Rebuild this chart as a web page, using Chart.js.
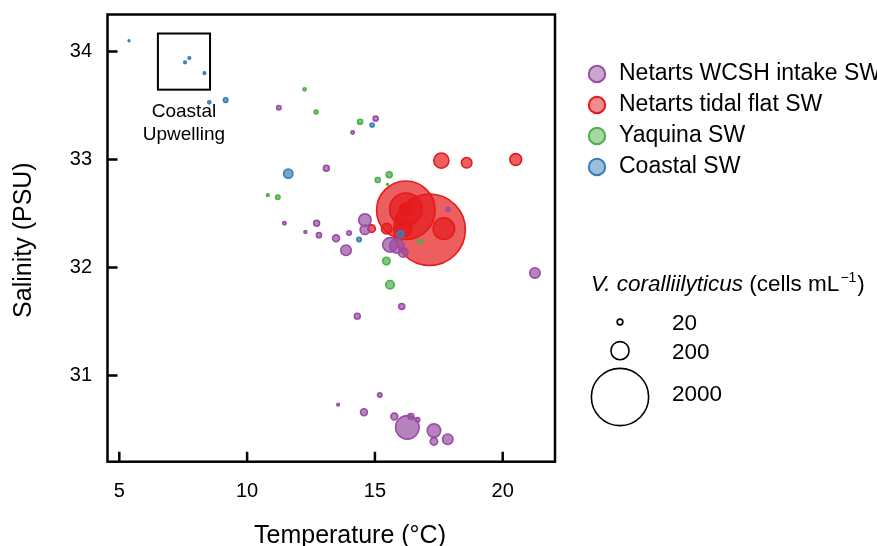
<!DOCTYPE html>
<html><head><meta charset="utf-8">
<script src="https://cdn.jsdelivr.net/npm/chart.js@4.4.1/dist/chart.umd.min.js"></script>
<style>html,body{margin:0;padding:0;background:#fff;}#wrap{width:877px;height:546px;position:relative;}</style>
</head><body><div id="wrap"><canvas id="c" width="877" height="546"></canvas></div>
<script>
// ---- data: temperature (°C), salinity (PSU), V. coralliilyticus (cells mL-1)
const seriesNames = ["Netarts WCSH intake SW", "Netarts tidal flat SW", "Yaquina SW", "Coastal SW"];
const seriesColors = ["#984ea3", "#e41a1c", "#4daf4a", "#377eb8"];

const wcshTemp  = [11.24, 15.03, 14.13, 13.10, 11.46, 12.72, 12.28, 12.81, 13.48, 13.99, 13.87, 14.61, 14.61, 15.59, 15.86, 16.11, 17.86, 21.26, 16.05, 14.31, 15.19, 13.56, 14.57, 15.76, 16.41, 16.67, 16.27, 17.31, 17.31, 17.85];
const wcshSal   = [33.48, 33.38, 33.25, 32.92, 32.41, 32.41, 32.33, 32.30, 32.27, 32.32, 32.16, 32.44, 32.35, 32.21, 32.20, 32.14, 32.54, 31.95, 31.64, 31.55, 30.82, 30.73, 30.66, 30.62, 30.62, 30.59, 30.52, 30.49, 30.39, 30.41];
const wcshCells = [12, 16, 7, 21, 7, 21, 5, 16, 29, 12, 67, 95, 56, 128, 128, 56, 9, 67, 21, 21, 12, 4, 29, 29, 21, 12, 337, 111, 34, 67];

const tidalTemp  = [17.14, 16.21, 16.21, 17.70, 16.21, 16.14, 17.60, 18.59, 20.51, 15.46, 14.87];
const tidalSal   = [32.35, 32.53, 32.54, 32.36, 32.54, 32.36, 32.99, 32.97, 33.00, 32.36, 32.36];
const tidalCells = [3120, 2090, 645, 282, 95, 147, 140, 67, 86, 67, 34];

const yaqTemp  = [12.25, 12.70, 14.42, 15.56, 15.11, 15.49, 10.81, 11.20, 16.76, 15.45, 15.59];
const yaqSal   = [33.65, 33.44, 33.35, 32.86, 32.81, 32.77, 32.67, 32.65, 32.24, 32.06, 31.84];
const yaqCells = [6, 9, 16, 21, 15, 2, 4, 12, 10, 34, 44];

const coastTemp  = [5.38, 7.74, 7.57, 8.33, 8.52, 9.16, 14.89, 11.61, 14.38, 16.01];
const coastSal   = [34.10, 33.94, 33.90, 33.80, 33.53, 33.55, 33.32, 32.87, 32.26, 32.31];
const coastCells = [2, 4, 4, 4, 6, 12, 10, 52, 12, 26];

const xTickValues = [5, 10, 15, 20];
const yTickValues = [31, 32, 33, 34];
const sizeLegendValues = [20, 200, 2000];
const upwellingX = [6.51, 8.55];
const upwellingY = [33.647, 34.167];
const upwellingLabel = ["Coastal", "Upwelling"];

// ---- helpers
const FONT = '"Liberation Sans", Arial, Helvetica, sans-serif';
const R_SCALE = 0.64;
const radiusOf = v => R_SCALE * Math.sqrt(v);
function rgba(hex, a) {
  const n = parseInt(hex.slice(1), 16);
  return `rgba(${(n >> 16) & 255},${(n >> 8) & 255},${n & 255},${a})`;
}
function pts(t, s, c) { return t.map((v, i) => ({ x: v, y: s[i], r: radiusOf(c[i]) })); }

const groups = [
  { t: wcshTemp, s: wcshSal, c: wcshCells, order: 3 },
  { t: tidalTemp, s: tidalSal, c: tidalCells, order: 4 },
  { t: yaqTemp, s: yaqSal, c: yaqCells, order: 2 },
  { t: coastTemp, s: coastSal, c: coastCells, order: 1 }
];
const datasets = groups.map((g, i) => ({
  label: seriesNames[i],
  data: pts(g.t, g.s, g.c),
  backgroundColor: rgba(seriesColors[i], 0.7),
  borderColor: seriesColors[i],
  borderWidth: 1.6,
  hoverRadius: 0,
  order: g.order
}));

const overlay = {
  id: 'overlay',
  afterDatasetsDraw(chart) {
    const { ctx, chartArea: a, scales: { x, y } } = chart;
    ctx.save();
    ctx.strokeStyle = '#000';
    ctx.lineWidth = 2.5;
    ctx.strokeRect(a.left, a.top, a.right - a.left, a.bottom - a.top);
    ctx.beginPath();
    xTickValues.forEach(v => { const p = x.getPixelForValue(v); ctx.moveTo(p, a.bottom); ctx.lineTo(p, a.bottom - 10); });
    yTickValues.forEach(v => { const p = y.getPixelForValue(v); ctx.moveTo(a.left, p); ctx.lineTo(a.left + 10, p); });
    ctx.stroke();
    // upwelling box
    const bx0 = x.getPixelForValue(upwellingX[0]), bx1 = x.getPixelForValue(upwellingX[1]);
    const by0 = y.getPixelForValue(upwellingY[1]), by1 = y.getPixelForValue(upwellingY[0]);
    ctx.lineWidth = 2;
    ctx.strokeRect(bx0, by0, bx1 - bx0, by1 - by0);
    ctx.fillStyle = '#000';
    ctx.font = '19px ' + FONT;
    ctx.textAlign = 'center';
    ctx.textBaseline = 'middle';
    const cx = (bx0 + bx1) / 2;
    ctx.fillText(upwellingLabel[0], cx, by1 + 22.5);
    ctx.fillText(upwellingLabel[1], cx, by1 + 45.5);
    ctx.restore();
  },
  afterDraw(chart) {
    const { ctx, chartArea: a } = chart;
    ctx.save();
    ctx.fillStyle = '#000';
    // axis titles
    ctx.font = '25px ' + FONT;
    ctx.textAlign = 'center';
    ctx.textBaseline = 'middle';
    ctx.fillText('Temperature (°C)', 350, 536);
    ctx.save();
    ctx.translate(24, (a.top + a.bottom) / 2 + 2);
    ctx.rotate(-Math.PI / 2);
    ctx.fillText('Salinity (PSU)', 0, 0);
    ctx.restore();
    // series legend
    ctx.textAlign = 'left';
    ctx.font = '23px ' + FONT;
    seriesNames.forEach((n, i) => {
      const yy = 74 + i * 31;
      ctx.beginPath();
      ctx.arc(597, yy, 8.2, 0, Math.PI * 2);
      ctx.fillStyle = rgba(seriesColors[i], 0.5);
      ctx.fill();
      ctx.lineWidth = 2;
      ctx.strokeStyle = seriesColors[i];
      ctx.stroke();
      ctx.fillStyle = '#000';
      ctx.fillText(n, 619, yy);
    });
    // size legend title
    let tx = 591;
    const ty = 285;
    ctx.font = 'italic 22.5px ' + FONT;
    ctx.fillText('V. coralliilyticus', tx, ty);
    tx += ctx.measureText('V. coralliilyticus').width;
    ctx.font = '22.5px ' + FONT;
    ctx.fillText(' (cells mL', tx, ty);
    tx += ctx.measureText(' (cells mL').width;
    ctx.font = '14px ' + FONT;
    ctx.fillText('\u22121', tx + 1, ty - 7);
    tx += ctx.measureText('\u22121').width + 2;
    ctx.font = '22.5px ' + FONT;
    ctx.fillText(')', tx, ty);
    // size legend circles
    const cys = [322, 350.7, 397];
    const lys = [323.3, 352.3, 395];
    sizeLegendValues.forEach((v, i) => {
      ctx.beginPath();
      ctx.arc(620, cys[i], radiusOf(v), 0, Math.PI * 2);
      ctx.lineWidth = 1.6;
      ctx.strokeStyle = '#000';
      ctx.stroke();
      ctx.fillStyle = '#000';
      ctx.font = '22.5px ' + FONT;
      ctx.fillText(String(v), 672, lys[i]);
    });
    ctx.restore();
  }
};

Chart.defaults.font.family = FONT;
Chart.defaults.color = '#000';

new Chart(document.getElementById('c'), {
  type: 'bubble',
  data: { datasets },
  options: {
    responsive: false,
    animation: false,
    devicePixelRatio: 1,
    layout: { autoPadding: false, padding: { top: 14.5, right: 322, left: 0, bottom: 0 } },
    plugins: { legend: { display: false }, tooltip: { enabled: false } },
    scales: {
      x: {
        type: 'linear', min: 4.538, max: 22.046,
        grid: { display: false, drawTicks: false }, border: { display: false },
        ticks: { font: { size: 20 }, padding: 18, color: '#000' },
        afterBuildTicks: s => { s.ticks = xTickValues.map(v => ({ value: v })); },
        afterFit: s => { s.height = 84.3; s.paddingLeft = 0; s.paddingRight = 0; }
      },
      y: {
        type: 'linear', min: 30.202, max: 34.343,
        grid: { display: false, drawTicks: false }, border: { display: false },
        ticks: { font: { size: 20 }, padding: 15.5, color: '#000' },
        afterBuildTicks: s => { s.ticks = yTickValues.map(v => ({ value: v })); },
        afterFit: s => { s.width = 107.5; s.paddingTop = 0; s.paddingBottom = 0; }
      }
    }
  },
  plugins: [overlay]
});
</script></body></html>
